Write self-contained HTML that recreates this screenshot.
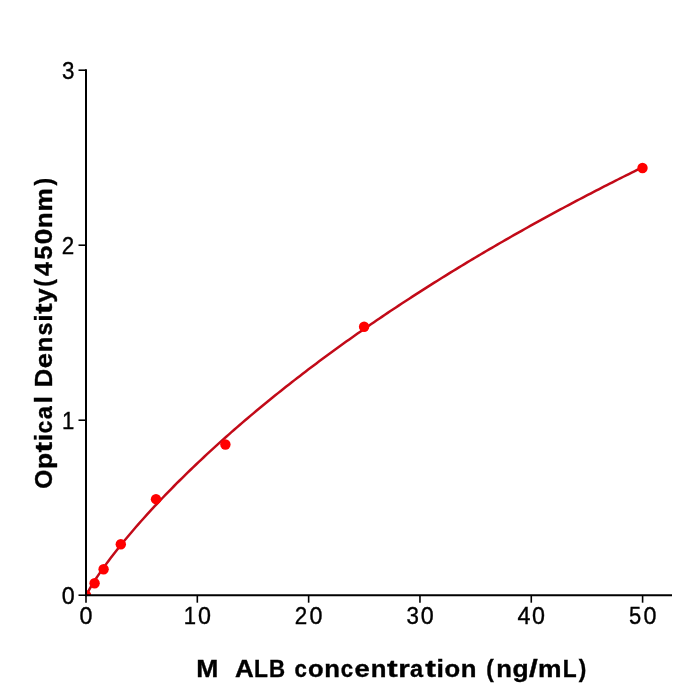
<!DOCTYPE html>
<html><head><meta charset="utf-8"><style>
html,body{margin:0;padding:0;background:#fff;}
svg{display:block;will-change:transform;}
text{font-family:"Liberation Sans",sans-serif;fill:#000;stroke:#000;stroke-width:0.35px;}
</style></head><body>
<svg width="700" height="700" viewBox="0 0 700 700">
<rect width="700" height="700" fill="#fff"/>
<defs><clipPath id="ax"><rect x="86" y="0" width="600" height="595.2"/></clipPath></defs>
<g clip-path="url(#ax)">
<polyline points="86.00,596.50 86.59,594.95 87.17,593.67 87.76,592.49 88.34,591.36 88.93,590.27 89.52,589.21 90.10,588.18 90.69,587.17 91.27,586.18 91.86,585.20 92.44,584.23 93.03,583.28 93.62,582.34 94.20,581.42 94.79,580.50 95.37,579.59 95.96,578.69 96.55,577.80 97.13,576.92 99.87,572.87 102.61,568.95 105.36,565.14 108.10,561.42 110.84,557.77 113.58,554.20 116.32,550.69 119.06,547.24 121.80,543.84 124.54,540.50 127.28,537.19 130.02,533.93 132.77,530.72 135.51,527.54 138.25,524.39 140.99,521.29 143.73,518.21 146.47,515.17 149.21,512.16 151.95,509.17 154.69,506.22 157.43,503.29 160.18,500.39 162.92,497.51 165.66,494.66 168.40,491.83 171.14,489.03 173.88,486.25 176.62,483.49 179.36,480.75 182.10,478.03 184.85,475.33 187.59,472.65 190.33,469.99 193.07,467.35 195.81,464.73 198.55,462.13 201.29,459.54 204.03,456.97 206.77,454.42 209.51,451.88 212.26,449.36 215.00,446.86 217.74,444.37 220.48,441.90 223.22,439.44 225.96,437.00 228.70,434.57 231.44,432.16 234.18,429.76 236.93,427.37 239.67,425.00 242.41,422.64 245.15,420.30 247.89,417.96 250.63,415.64 253.37,413.34 256.11,411.04 258.85,408.76 261.59,406.49 264.34,404.23 267.08,401.98 269.82,399.75 272.56,397.52 275.30,395.31 278.04,393.11 280.78,390.92 283.52,388.74 286.26,386.57 289.01,384.42 291.75,382.27 294.49,380.13 297.23,378.01 299.97,375.89 302.71,373.78 305.45,371.69 308.19,369.60 310.93,367.52 313.67,365.45 316.42,363.40 319.16,361.35 321.90,359.31 324.64,357.28 327.38,355.26 330.12,353.24 332.86,351.24 335.60,349.25 338.34,347.26 341.09,345.28 343.83,343.31 346.57,341.35 349.31,339.40 352.05,337.46 354.79,335.52 357.53,333.60 360.27,331.68 363.01,329.77 365.75,327.86 368.50,325.97 371.24,324.08 373.98,322.20 376.72,320.33 379.46,318.46 382.20,316.60 384.94,314.76 387.68,312.91 390.42,311.08 393.16,309.25 395.91,307.43 398.65,305.62 401.39,303.81 404.13,302.01 406.87,300.22 409.61,298.43 412.35,296.65 415.09,294.88 417.83,293.11 420.58,291.36 423.32,289.60 426.06,287.86 428.80,286.12 431.54,284.39 434.28,282.66 437.02,280.94 439.76,279.23 442.50,277.52 445.24,275.82 447.99,274.12 450.73,272.44 453.47,270.75 456.21,269.08 458.95,267.41 461.69,265.74 464.43,264.08 467.17,262.43 469.91,260.78 472.66,259.14 475.40,257.51 478.14,255.88 480.88,254.25 483.62,252.63 486.36,251.02 489.10,249.41 491.84,247.81 494.58,246.21 497.32,244.62 500.07,243.04 502.81,241.46 505.55,239.88 508.29,238.31 511.03,236.75 513.77,235.19 516.51,233.64 519.25,232.09 521.99,230.54 524.74,229.00 527.48,227.47 530.22,225.94 532.96,224.42 535.70,222.90 538.44,221.39 541.18,219.88 543.92,218.37 546.66,216.88 549.40,215.38 552.15,213.89 554.89,212.41 557.63,210.93 560.37,209.45 563.11,207.98 565.85,206.51 568.59,205.05 571.33,203.60 574.07,202.14 576.81,200.70 579.56,199.25 582.30,197.81 585.04,196.38 587.78,194.95 590.52,193.52 593.26,192.10 596.00,190.69 598.74,189.27 601.48,187.87 604.23,186.46 606.97,185.06 609.71,183.67 612.45,182.27 615.19,180.89 617.93,179.50 620.67,178.13 623.41,176.75 626.15,175.38 628.89,174.01 631.64,172.65 634.38,171.29 637.12,169.94 639.86,168.59 642.60,167.24" fill="none" stroke="#c20a18" stroke-width="2.5" stroke-linejoin="round"/>
<g fill="#f00">
<circle cx="86" cy="595.2" r="5.2"/>
<circle cx="94.6" cy="583.3" r="5.2"/>
<circle cx="103.6" cy="569.3" r="5.2"/>
<circle cx="120.8" cy="544.3" r="5.2"/>
<circle cx="156.0" cy="499.15" r="5.2"/>
<circle cx="225.4" cy="444.5" r="5.2"/>
<circle cx="364.1" cy="326.8" r="5.2"/>
<circle cx="642.5" cy="168.0" r="5.2"/>
</g>
</g>
<g stroke="#000" stroke-width="1.6"><line x1="86.00" y1="595" x2="86.00" y2="602.7"/><line x1="197.32" y1="595" x2="197.32" y2="602.7"/><line x1="308.64" y1="595" x2="308.64" y2="602.7"/><line x1="419.96" y1="595" x2="419.96" y2="602.7"/><line x1="531.28" y1="595" x2="531.28" y2="602.7"/><line x1="642.60" y1="595" x2="642.60" y2="602.7"/><line x1="78.5" y1="595.20" x2="86" y2="595.20"/><line x1="78.5" y1="420.20" x2="86" y2="420.20"/><line x1="78.5" y1="245.20" x2="86" y2="245.20"/><line x1="78.5" y1="70.20" x2="86" y2="70.20"/></g>
<g stroke="#000" stroke-width="2" stroke-linecap="butt">
<line x1="86" y1="69.3" x2="86" y2="596.2"/>
<line x1="85" y1="595.2" x2="672" y2="595.2"/>
</g>
<g><text transform="matrix(1.0176,0,0,1.0600,79.51,623.50)" font-size="22.9">0</text><text transform="matrix(0.9663,0,0,1.0600,183.78,623.50)" font-size="22.9">1</text><text transform="matrix(1.0176,0,0,1.0600,198.12,623.50)" font-size="22.9">0</text><text transform="matrix(0.9777,0,0,1.0600,294.82,623.50)" font-size="22.9">2</text><text transform="matrix(1.0176,0,0,1.0600,309.44,623.50)" font-size="22.9">0</text><text transform="matrix(0.9755,0,0,1.0600,406.48,623.50)" font-size="22.9">3</text><text transform="matrix(1.0176,0,0,1.0600,420.76,623.50)" font-size="22.9">0</text><text transform="matrix(1.0196,0,0,1.0600,517.49,623.50)" font-size="22.9">4</text><text transform="matrix(1.0176,0,0,1.0600,532.08,623.50)" font-size="22.9">0</text><text transform="matrix(0.9580,0,0,1.0600,629.12,623.50)" font-size="22.9">5</text><text transform="matrix(1.0176,0,0,1.0600,643.40,623.50)" font-size="22.9">0</text><text transform="matrix(1.0176,0,0,1.0600,61.73,603.90)" font-size="22.9">0</text><text transform="matrix(0.9663,0,0,1.0600,61.96,428.90)" font-size="22.9">1</text><text transform="matrix(0.9777,0,0,1.0600,61.68,253.90)" font-size="22.9">2</text><text transform="matrix(0.9755,0,0,1.0600,62.02,78.90)" font-size="22.9">3</text></g>
<g><text transform="matrix(1.1354,0,0,1.0600,196.33,677.10)" font-size="23.33" font-weight="bold">M</text><text transform="matrix(1.1135,0,0,1.0600,234.89,677.10)" font-size="23.33" font-weight="bold">A</text><text transform="matrix(0.9761,0,0,1.0600,254.09,677.10)" font-size="23.33" font-weight="bold">L</text><text transform="matrix(0.9559,0,0,1.0600,268.99,677.10)" font-size="23.33" font-weight="bold">B</text><text transform="matrix(0.9548,0,0,1.0600,294.38,677.10)" font-size="23.33" font-weight="bold">c</text><text transform="matrix(1.0961,0,0,1.0600,308.08,677.10)" font-size="23.33" font-weight="bold">o</text><text transform="matrix(1.1030,0,0,1.0600,324.37,677.10)" font-size="23.33" font-weight="bold">n</text><text transform="matrix(0.9548,0,0,1.0600,340.85,677.10)" font-size="23.33" font-weight="bold">c</text><text transform="matrix(1.1799,0,0,1.0600,354.47,677.10)" font-size="23.33" font-weight="bold">e</text><text transform="matrix(1.1030,0,0,1.0600,370.63,677.10)" font-size="23.33" font-weight="bold">n</text><text transform="matrix(1.3764,0,0,1.0600,386.89,677.10)" font-size="23.33" font-weight="bold">t</text><text transform="matrix(1.2629,0,0,1.0600,398.14,677.10)" font-size="23.33" font-weight="bold">r</text><text transform="matrix(1.0054,0,0,1.0600,409.95,677.10)" font-size="23.33" font-weight="bold">a</text><text transform="matrix(1.3764,0,0,1.0600,425.29,677.10)" font-size="23.33" font-weight="bold">t</text><text transform="matrix(1.1491,0,0,1.0600,436.62,677.10)" font-size="23.33" font-weight="bold">i</text><text transform="matrix(1.0961,0,0,1.0600,444.53,677.10)" font-size="23.33" font-weight="bold">o</text><text transform="matrix(1.1030,0,0,1.0600,460.82,677.10)" font-size="23.33" font-weight="bold">n</text><text transform="matrix(0.9704,0,0,1.0600,486.16,677.10)" font-size="23.33" font-weight="bold">(</text><text transform="matrix(1.1030,0,0,1.0600,496.21,677.10)" font-size="23.33" font-weight="bold">n</text><text transform="matrix(1.1329,0,0,1.0600,512.52,677.10)" font-size="23.33" font-weight="bold">g</text><text transform="matrix(1.3476,0,0,1.0600,528.95,677.10)" font-size="23.33" font-weight="bold">/</text><text transform="matrix(1.1333,0,0,1.0600,537.97,677.10)" font-size="23.33" font-weight="bold">m</text><text transform="matrix(0.9761,0,0,1.0600,562.70,677.10)" font-size="23.33" font-weight="bold">L</text><text transform="matrix(0.9704,0,0,1.0600,578.80,677.10)" font-size="23.33" font-weight="bold">)</text></g>
<g transform="translate(51.9,489.16) rotate(-90)"><text transform="matrix(1.0547,0,0,1.0600,0.35,0.00)" font-size="23.33" font-weight="bold">O</text><text transform="matrix(1.1307,0,0,1.0600,20.25,0.00)" font-size="23.33" font-weight="bold">p</text><text transform="matrix(1.3764,0,0,1.0600,36.65,0.00)" font-size="23.33" font-weight="bold">t</text><text transform="matrix(1.1491,0,0,1.0600,47.97,0.00)" font-size="23.33" font-weight="bold">i</text><text transform="matrix(0.9548,0,0,1.0600,56.01,0.00)" font-size="23.33" font-weight="bold">c</text><text transform="matrix(1.0054,0,0,1.0600,70.03,0.00)" font-size="23.33" font-weight="bold">a</text><text transform="matrix(1.1491,0,0,1.0600,85.54,0.00)" font-size="23.33" font-weight="bold">l</text><text transform="matrix(1.0907,0,0,1.0600,102.01,0.00)" font-size="23.33" font-weight="bold">D</text><text transform="matrix(1.1799,0,0,1.0600,120.87,0.00)" font-size="23.33" font-weight="bold">e</text><text transform="matrix(1.1030,0,0,1.0600,137.03,0.00)" font-size="23.33" font-weight="bold">n</text><text transform="matrix(0.9978,0,0,1.0600,153.76,0.00)" font-size="23.33" font-weight="bold">s</text><text transform="matrix(1.1491,0,0,1.0600,167.35,0.00)" font-size="23.33" font-weight="bold">i</text><text transform="matrix(1.3764,0,0,1.0600,175.17,0.00)" font-size="23.33" font-weight="bold">t</text><text transform="matrix(1.1132,0,0,1.0600,186.49,0.00)" font-size="23.33" font-weight="bold">y</text><text transform="matrix(0.9704,0,0,1.0600,202.49,0.00)" font-size="23.33" font-weight="bold">(</text><text transform="matrix(1.0974,0,0,1.0600,212.94,0.00)" font-size="23.33" font-weight="bold">4</text><text transform="matrix(1.0686,0,0,1.0600,229.54,0.00)" font-size="23.33" font-weight="bold">5</text><text transform="matrix(1.2258,0,0,1.0600,244.73,0.00)" font-size="23.33" font-weight="bold">0</text><text transform="matrix(1.1030,0,0,1.0600,261.24,0.00)" font-size="23.33" font-weight="bold">n</text><text transform="matrix(1.1333,0,0,1.0600,277.78,0.00)" font-size="23.33" font-weight="bold">m</text><text transform="matrix(0.9704,0,0,1.0600,303.74,0.00)" font-size="23.33" font-weight="bold">)</text></g>
</svg>
</body></html>
